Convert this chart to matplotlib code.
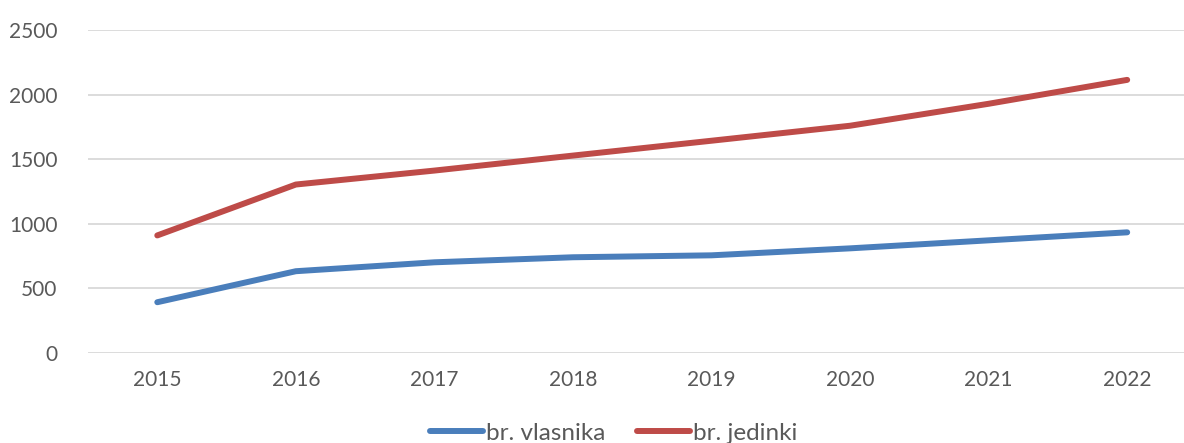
import matplotlib.pyplot as plt
from matplotlib.lines import Line2D

years = ['2015', '2016', '2017', '2018', '2019', '2020', '2021', '2022']
vlasnika = [393, 633, 702, 741, 756, 810, 872, 934]
jedinki = [910, 1304, 1412, 1528, 1643, 1759, 1929, 2114]

blue = '#4a7ebb'
red = '#be4b48'
grey = '#595959'

plt.rcParams['font.family'] = ['Lato', 'DejaVu Sans']

fig = plt.figure(figsize=(11.84, 4.43), dpi=100)
ax = fig.add_axes([88 / 1184, 1 - 353 / 443, 1 - 88 / 1184, (353 - 30) / 443])

x = list(range(len(years)))
ax.plot(x, vlasnika, color=blue, lw=4.3, solid_capstyle='round', label='br. vlasnika')
ax.plot(x, jedinki, color=red, lw=4.3, solid_capstyle='round', label='br. jedinki')

ax.set_xlim(-0.5, 7.41)
ax.set_ylim(0, 2500)
ax.set_yticks([0, 500, 1000, 1500, 2000, 2500])
ax.set_xticks(x)
ax.set_xticklabels(years)
ax.grid(axis='y', color='#d9d9d9', lw=1.3)
ax.set_axisbelow(True)
for s in ax.spines.values():
    s.set_visible(False)
ax.tick_params(length=0, labelsize=15, colors=grey, pad=12)
ax.tick_params(axis='y', pad=22)

handles = [Line2D([0], [0], color=blue, lw=4.3, solid_capstyle='round'),
           Line2D([0], [0], color=red, lw=4.3, solid_capstyle='round')]
fig.legend(handles, ['br. vlasnika', 'br. jedinki'], loc='center', bbox_to_anchor=(0.518, 0.022),
           ncol=2, frameon=False, fontsize=17.5, labelcolor=grey, handlelength=2.2,
           handletextpad=0.1, columnspacing=1.3)

fig.savefig('out.png', dpi=100)
